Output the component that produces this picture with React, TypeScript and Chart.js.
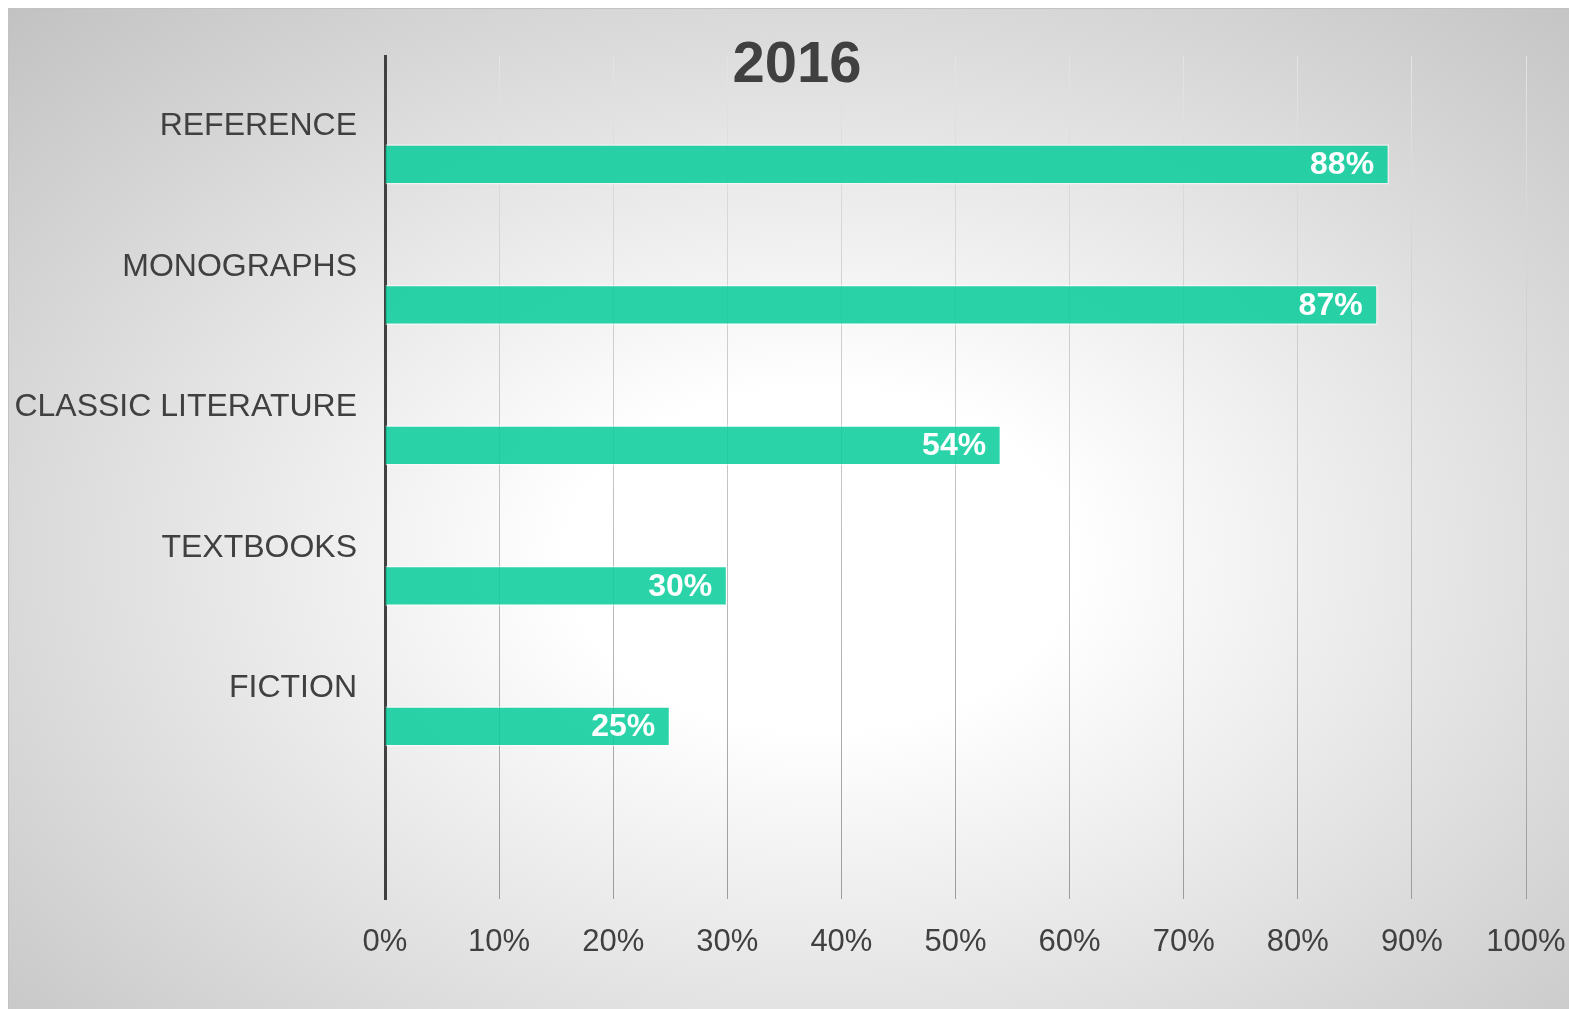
import React, { useEffect, useRef } from "react";
import { Chart, registerables } from "chart.js";

Chart.register(...registerables);

const TITLE = "2016";
const CATEGORIES = ["REFERENCE", "MONOGRAPHS", "CLASSIC LITERATURE", "TEXTBOOKS", "FICTION", ""];
const VALUES = [88, 87, 54, 30, 25, null];
const SPACER = [null, null, null, null, null, null];
const X_TICKS_MIN = 0;
const X_TICKS_MAX = 100;
const X_STEP = 10;

const FONT = "'Liberation Sans', Arial, Helvetica, sans-serif";
const TEXT = "#404040";

export default function App() {
  const ref = useRef<HTMLCanvasElement | null>(null);

  useEffect(() => {
    if (!ref.current) return;

    const labelPlugin = {
      id: "valueLabels",
      afterDatasetsDraw(chart: any) {
        const c = chart.ctx;
        const meta = chart.getDatasetMeta(1);
        c.save();
        c.fillStyle = "#ffffff";
        c.font = `bold 32px ${FONT}`;
        c.textAlign = "right";
        c.textBaseline = "middle";
        meta.data.forEach((el: any, i: number) => {
          const v = VALUES[i];
          if (v == null) return;
          c.fillText(`${v}%`, el.x - 15, el.y + 1);
        });
        c.restore();
      },
    };

    const titlePlugin = {
      id: "overlayTitle",
      afterDraw(chart: any) {
        const c = chart.ctx;
        c.save();
        c.fillStyle = TEXT;
        c.font = `bold 58px ${FONT}`;
        c.textAlign = "center";
        c.textBaseline = "middle";
        c.fillText(TITLE, chart.width / 2 + 8, 57);
        c.restore();
      },
    };

    const chart = new Chart(ref.current, {
      type: "bar",
      data: {
        labels: CATEGORIES,
        datasets: [
          {
            label: "spacer",
            data: SPACER as any,
            backgroundColor: "rgba(0,0,0,0)",
          },
          {
            label: TITLE,
            data: VALUES as any,
            backgroundColor: "rgba(10,206,155,0.87)",
            borderColor: "rgba(255,255,255,0.55)",
            borderWidth: 1.5,
          },
        ],
      },
      options: {
        indexAxis: "y",
        animation: false,
        responsive: false,
        maintainAspectRatio: false,
        datasets: {
          bar: {
            categoryPercentage: 1.082,
            barPercentage: 0.53,
          },
        },
        layout: { autoPadding: false, padding: { top: 46, right: 43, left: 0, bottom: 0 } },
        plugins: {
          legend: { display: false },
          title: { display: false },
          tooltip: { enabled: false },
        },
        scales: {
          x: {
            type: "linear",
            min: X_TICKS_MIN,
            max: X_TICKS_MAX,
            afterFit: (s: any) => {
              s.height = 110;
              s.paddingRight = 0;
              s.paddingLeft = 0;
            },
            border: { display: false },
            grid: {
              drawTicks: false,
              lineWidth: 1,
              color: (ctx: any) => {
                const ch = ctx.chart;
                const ca = ch.chartArea;
                if (!ca) return "#b0b0b0";
                const g = ch.ctx.createLinearGradient(0, ca.top, 0, ca.bottom);
                g.addColorStop(0, "#e4e4e4");
                g.addColorStop(0.5, "#c4c4c4");
                g.addColorStop(1, "#9c9c9c");
                return g;
              },
            },
            ticks: {
              stepSize: X_STEP,
              padding: 25,
              color: TEXT,
              font: { family: FONT, size: 31 },
              callback: (v: any) => `${v}%`,
            },
          },
          y: {
            type: "category",
            afterFit: (s: any) => {
              s.width = 376;
            },
            border: { display: true, color: "#404040", width: 3 },
            grid: { display: false, drawTicks: false },
            ticks: {
              padding: 28,
              color: TEXT,
              font: { family: FONT, size: 32 },
              autoSkip: false,
            },
          },
        },
      },
      plugins: [labelPlugin, titlePlugin],
    });

    return () => chart.destroy();
  }, []);

  return (
    <div
      style={{
        position: "fixed",
        left: 8,
        top: 8,
        width: 1561,
        height: 1001,
        boxSizing: "border-box",
        border: "1px solid #c2c2c2",
        borderRight: "none",
        borderBottom: "none",
        background:
          "radial-gradient(ellipse farthest-corner at 52% 55%, #ffffff 0%, #ffffff 22%, #c2c2c2 100%)",
      }}
    >
      <canvas ref={ref} width={1560} height={1000} style={{ display: "block" }} />
    </div>
  );
}
